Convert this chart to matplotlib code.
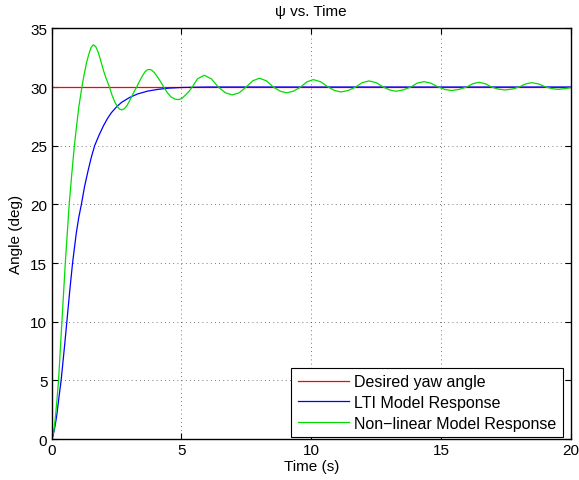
import numpy as np
import matplotlib
matplotlib.use('Agg')
import matplotlib.pyplot as plt

plt.rcParams['font.family'] = ['Liberation Sans', 'DejaVu Sans']

# desired yaw angle
t_ref = [0, 20]
psi_ref = [30, 30]

# LTI model response
t_lti = [0, 0.05, 0.1, 0.15, 0.2, 0.3, 0.37, 0.5, 0.59, 0.7, 0.81, 0.95, 1.05,
         1.15, 1.27, 1.4, 1.53, 1.66, 1.83, 2.0, 2.15, 2.3, 2.5, 2.7, 3.0, 3.3,
         3.7, 4.1, 4.5, 5.0, 6.0, 20.0]
psi_lti = [0, 0.2, 0.7, 1.3, 2.0, 3.8, 5.0, 7.9, 10.0, 12.6, 15.0, 17.5, 18.9,
           20.0, 21.5, 22.8, 24.0, 25.0, 25.9, 26.7, 27.3, 27.8, 28.3, 28.7,
           29.1, 29.4, 29.65, 29.8, 29.9, 29.96, 30.0, 30.0]

# non-linear model response
t_nl = [0, 0.05, 0.1, 0.15, 0.2, 0.27, 0.4, 0.53, 0.68, 0.78, 0.88, 0.95, 1.05,
        1.17, 1.25, 1.35, 1.45, 1.53, 1.61, 1.7, 1.8, 1.9, 2.0, 2.1, 2.23,
        2.33, 2.43, 2.53, 2.62, 2.7, 2.8, 2.9, 3.0, 3.1, 3.2, 3.28, 3.4, 3.5,
        3.6, 3.68, 3.76, 3.85, 3.95, 4.05, 4.2, 4.32, 4.45, 4.6, 4.75, 4.88,
        5.0, 5.15, 5.3, 5.42, 5.62, 5.88,
        6.15, 6.42, 6.7, 6.96, 7.22, 7.49, 7.75, 8.0, 8.27, 8.54, 8.8, 9.05,
        9.32, 9.59, 9.84, 10.08, 10.36, 10.65, 10.9, 11.14, 11.42, 11.71,
        11.96, 12.22, 12.5, 12.77, 13.02, 13.26, 13.54, 13.83, 14.08, 14.34,
        14.6, 14.89, 15.15, 15.4, 15.68, 15.98, 16.22, 16.45, 16.7, 16.94,
        17.2, 17.46, 17.73, 18.0, 18.25, 18.48, 18.76, 19.03, 19.27, 19.5,
        19.75, 20.0]
psi_nl = [0, 0.25, 0.9, 1.9, 3.1, 5.0, 10.0, 15.0, 20.0, 22.6, 25.0, 26.4, 28.3,
          30.0, 31.0, 32.1, 32.9, 33.4, 33.6, 33.45, 32.95, 32.2, 31.4, 30.75, 30.0,
          29.3, 28.75, 28.35, 28.12, 28.05, 28.15, 28.4, 28.8, 29.25, 29.7, 30.0, 30.55, 30.95,
          31.3, 31.45, 31.5, 31.45, 31.25, 30.95, 30.45, 30.0, 29.55, 29.15, 28.97, 28.93,
          29.0, 29.3, 29.65, 30.0, 30.7, 31.0,
          30.7, 30.0, 29.5, 29.33, 29.5, 30.0, 30.53, 30.75, 30.53, 30.0, 29.65, 29.5,
          29.65, 30.0, 30.45, 30.63, 30.45, 30.0, 29.7, 29.58, 29.7, 30.0,
          30.37, 30.52, 30.37, 30.0, 29.75, 29.64, 29.75, 30.0, 30.33, 30.46,
          30.33, 30.0, 29.79, 29.7, 29.79, 30.0, 30.28, 30.4, 30.28, 30.0,
          29.82, 29.75, 29.82, 30.0, 30.26, 30.37, 30.26, 30.0, 29.86, 29.8,
          29.86, 29.95]

fig = plt.figure(figsize=(5.79, 4.81), dpi=100)
ax = fig.add_axes([0.089, 0.0852, 0.8972, 0.8538])

ax.plot(t_ref, psi_ref, color='#ff0000', lw=0.9, label='Desired yaw angle')
ax.plot(t_lti, psi_lti, color='#0000ff', lw=0.9, label='LTI Model Response')
ax.plot(t_nl, psi_nl, color='#00dd00', lw=0.9, label='Non\u2212linear Model Response')

ax.set_xlim(0, 20)
ax.set_ylim(0, 35)
ax.set_xticks([0, 5, 10, 15, 20])
ax.set_yticks([0, 5, 10, 15, 20, 25, 30, 35])
ax.grid(True, color='k', linestyle=(0, (1, 4)), linewidth=0.6, alpha=0.7)
ax.tick_params(direction='in', length=4, width=0.8, labelsize=11,
               top=True, right=True, pad=3)
for s in ax.spines.values():
    s.set_linewidth(1.0)

ax.set_title('\u03c8 vs. Time', fontsize=11, pad=9.5)
ax.set_xlabel('Time (s)', fontsize=11, labelpad=1.5)
ax.set_ylabel('Angle (deg)', fontsize=11, labelpad=5)

leg = ax.legend(loc='lower right', bbox_to_anchor=(0.9846, 0.005),
                fontsize=11.5, handlelength=3.2,
                fancybox=False, framealpha=1, edgecolor='k',
                borderaxespad=0, labelspacing=0.35, borderpad=0.4,
                handletextpad=0.35)
leg.get_frame().set_linewidth(0.8)

fig.savefig('out.png', dpi=100)
